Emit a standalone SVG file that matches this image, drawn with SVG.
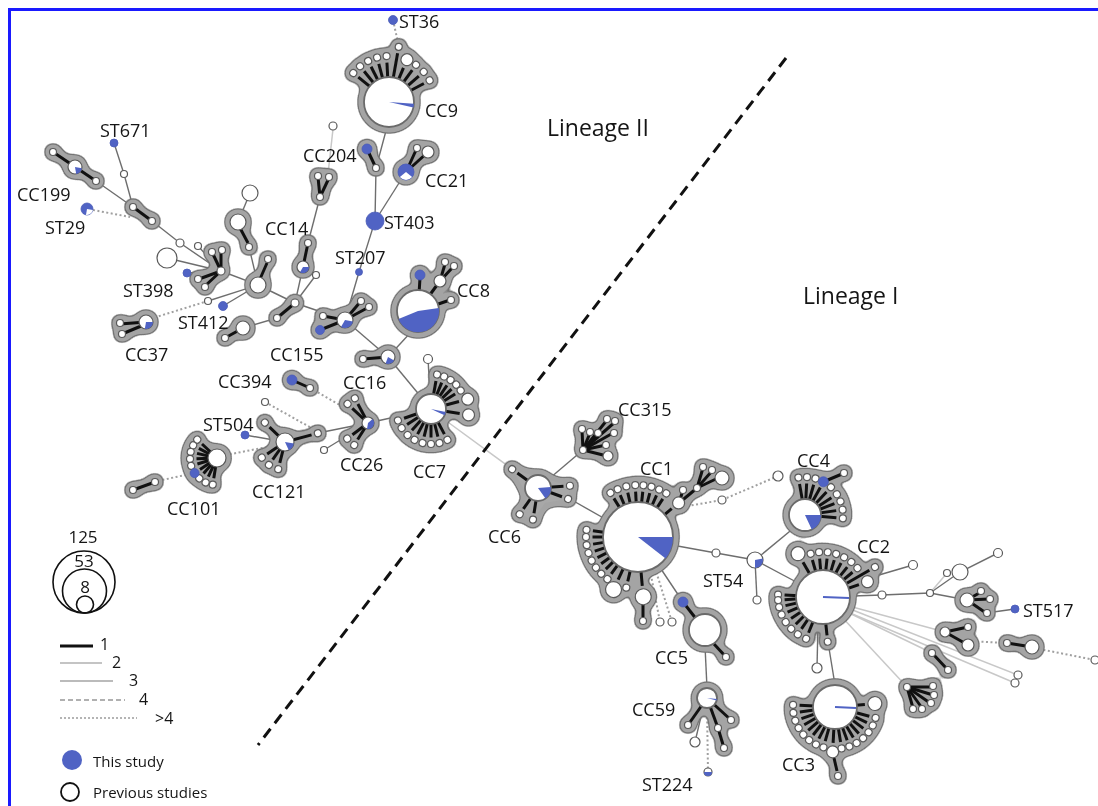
<svg xmlns="http://www.w3.org/2000/svg" width="1098" height="806" viewBox="0 0 1098 806">
<style>
.c{stroke:#6e6e6e;stroke-width:1.4;fill:none}
.f{stroke:#c8c8c8;stroke-width:1.5;fill:none}
.d{stroke:#a0a0a0;stroke-width:2;stroke-dasharray:2 2.5;fill:none}
.k{stroke:#111;stroke-width:3}
.w{fill:#fff;stroke:#5a5a5a;stroke-width:1.2}
.W{fill:#fff;stroke:#6a6a6a;stroke-width:1.8}
.b{fill:#5063c4}
.bo{fill:#5063c4;stroke:#4a5cb8;stroke-width:0.8}
.g{fill:#a8a8a8}
.t{font-family:"Open Sans","Liberation Sans",sans-serif;font-size:18px;fill:#151515}
.lg{font-family:"Open Sans","Liberation Sans",sans-serif;font-size:15px;fill:#151515}
.ln{font-family:"Open Sans","Liberation Sans",sans-serif;font-size:16px;fill:#151515}
</style>
<defs>
<filter id="halo" filterUnits="userSpaceOnUse" x="0" y="0" width="1098" height="806" color-interpolation-filters="sRGB">
<feGaussianBlur in="SourceAlpha" stdDeviation="4.5" result="bl"/>
<feComponentTransfer in="bl" result="a2"><feFuncA type="linear" slope="25" intercept="-1.25"/></feComponentTransfer>
<feFlood flood-color="#747474"/>
<feComposite in2="a2" operator="in" result="o"/>
<feComponentTransfer in="bl" result="a1"><feFuncA type="linear" slope="25" intercept="-2.5"/></feComponentTransfer>
<feFlood flood-color="#a4a4a4"/>
<feComposite in2="a1" operator="in" result="i"/>
<feMerge><feMergeNode in="o"/><feMergeNode in="i"/><feMergeNode in="SourceGraphic"/></feMerge>
</filter>
<g id="s26"><line x2="19.5" stroke="#111" stroke-width="3"/><circle cx="26" r="3.5" fill="#fff" stroke="#5a5a5a" stroke-width="1.2"/></g>
<g id="s27"><line x2="20.5" stroke="#111" stroke-width="3"/><circle cx="27" r="3.5" fill="#fff" stroke="#5a5a5a" stroke-width="1.2"/></g>
<g id="s28"><line x2="21.5" stroke="#111" stroke-width="3"/><circle cx="28" r="3.5" fill="#fff" stroke="#5a5a5a" stroke-width="1.2"/></g>
<g id="s32"><line x2="25.5" stroke="#111" stroke-width="3"/><circle cx="32" r="3.5" fill="#fff" stroke="#5a5a5a" stroke-width="1.2"/></g>
<g id="s34"><line x2="27.5" stroke="#111" stroke-width="3"/><circle cx="34" r="3.5" fill="#fff" stroke="#5a5a5a" stroke-width="1.2"/></g>
<g id="s35"><line x2="28.5" stroke="#111" stroke-width="3"/><circle cx="35" r="3.5" fill="#fff" stroke="#5a5a5a" stroke-width="1.2"/></g>
<g id="s38"><line x2="31.5" stroke="#111" stroke-width="3"/><circle cx="38" r="3.5" fill="#fff" stroke="#5a5a5a" stroke-width="1.2"/></g>
<g id="s42"><line x2="35.5" stroke="#111" stroke-width="3"/><circle cx="42" r="3.5" fill="#fff" stroke="#5a5a5a" stroke-width="1.2"/></g>
<g id="s45"><line x2="38.5" stroke="#111" stroke-width="3"/><circle cx="45" r="3.5" fill="#fff" stroke="#5a5a5a" stroke-width="1.2"/></g>
<g id="s46"><line x2="39.5" stroke="#111" stroke-width="3"/><circle cx="46" r="3.5" fill="#fff" stroke="#5a5a5a" stroke-width="1.2"/></g>
<g id="s52"><line x2="45.5" stroke="#111" stroke-width="3"/><circle cx="52" r="3.5" fill="#fff" stroke="#5a5a5a" stroke-width="1.2"/></g>
<g id="s56"><line x2="49.5" stroke="#111" stroke-width="3"/><circle cx="56" r="3.5" fill="#fff" stroke="#5a5a5a" stroke-width="1.2"/></g>
<g id="s60"><line x2="53.5" stroke="#111" stroke-width="3"/><circle cx="60" r="3.5" fill="#fff" stroke="#5a5a5a" stroke-width="1.2"/></g>
<g id="b38"><line x2="29" stroke="#111" stroke-width="3"/><circle cx="38" r="6" fill="#fff" stroke="#5a5a5a" stroke-width="1.2"/></g>
<g id="b40"><line x2="30" stroke="#111" stroke-width="3"/><circle cx="40" r="7" fill="#fff" stroke="#5a5a5a" stroke-width="1.2"/></g>
<g id="b45"><line x2="36" stroke="#111" stroke-width="3"/><circle cx="45" r="6" fill="#fff" stroke="#5a5a5a" stroke-width="1.2"/></g>
<g id="b46"><line x2="37" stroke="#111" stroke-width="3"/><circle cx="46" r="6" fill="#fff" stroke="#5a5a5a" stroke-width="1.2"/></g>
<g id="b47"><line x2="38" stroke="#111" stroke-width="3"/><circle cx="47" r="6" fill="#fff" stroke="#5a5a5a" stroke-width="1.2"/></g>
<g id="b50"><line x2="40" stroke="#111" stroke-width="3"/><circle cx="50" r="7" fill="#fff" stroke="#5a5a5a" stroke-width="1.2"/></g>
<g id="b53"><line x2="44" stroke="#111" stroke-width="3"/><circle cx="53" r="6" fill="#fff" stroke="#5a5a5a" stroke-width="1.2"/></g>
<g id="b58"><line x2="47" stroke="#111" stroke-width="3"/><circle cx="58" r="8" fill="#fff" stroke="#5a5a5a" stroke-width="1.2"/></g>
<g id="b60"><line x2="49" stroke="#111" stroke-width="3"/><circle cx="60" r="8" fill="#fff" stroke="#5a5a5a" stroke-width="1.2"/></g>
</defs>
<rect x="0" y="0" width="1098" height="806" fill="#fff"/>
<rect x="9.5" y="9.5" width="1100" height="810" fill="none" stroke="#1a1aff" stroke-width="3"/>

<g id="connectors">
<polyline class="c" points="114,143 124,174 133,207"/>
<line class="c" x1="96" y1="181" x2="133" y2="207"/>
<polyline class="c" points="152,221 180,243 221,271"/>
<line class="c" x1="198" y1="246" x2="221" y2="271"/>
<line class="c" x1="167" y1="258" x2="221" y2="271"/>
<line class="c" x1="187" y1="273" x2="221" y2="271"/>
<line class="c" x1="250" y1="193" x2="238" y2="222"/>
<line class="c" x1="249" y1="247" x2="258" y2="285"/>
<line class="c" x1="221" y1="271" x2="258" y2="285"/>
<line class="c" x1="258" y1="285" x2="208" y2="301"/>
<line class="c" x1="258" y1="285" x2="223" y2="306"/>
<line class="c" x1="258" y1="285" x2="295" y2="303"/>
<line class="c" x1="295" y1="303" x2="303" y2="267"/>
<line class="c" x1="295" y1="303" x2="316" y2="275"/>
<line class="c" x1="308" y1="243" x2="320" y2="197"/>
<line class="c" x1="295" y1="303" x2="345" y2="320"/>
<line class="c" x1="243" y1="328" x2="277" y2="318"/>
<polyline class="c" points="345,320 359,272 375,221 376,168 387,127"/>
<line class="c" x1="375" y1="221" x2="406" y2="172"/>
<line class="f" x1="333" y1="129" x2="328" y2="174"/>
<line class="c" x1="345" y1="320" x2="388" y2="357"/>
<line class="c" x1="388" y1="357" x2="412" y2="331"/>
<line class="c" x1="388" y1="357" x2="431" y2="409"/>
<line class="c" x1="431" y1="409" x2="428" y2="359"/>
<line class="c" x1="431" y1="409" x2="368" y2="423"/>
<line class="c" x1="368" y1="423" x2="318" y2="433"/>
<line class="c" x1="368" y1="423" x2="324" y2="450"/>
<line class="c" x1="285" y1="442" x2="245" y2="435"/>
<line class="f" x1="445" y1="420" x2="512" y2="469"/>
<line class="c" x1="550" y1="478" x2="583" y2="450"/>
<line class="c" x1="570" y1="499" x2="607" y2="520"/>
<polyline class="c" points="672,545 716,553 755,560"/>
<line class="c" x1="755" y1="560" x2="757" y2="600"/>
<line class="c" x1="755" y1="560" x2="795" y2="527"/>
<line class="c" x1="755" y1="560" x2="800" y2="584"/>
<line class="c" x1="659" y1="566" x2="683" y2="602"/>
<line class="c" x1="705" y1="646" x2="707" y2="688"/>
<line class="c" x1="703" y1="708" x2="695" y2="742"/>
<line class="c" x1="828" y1="642" x2="835" y2="685"/>
<line class="c" x1="818" y1="623" x2="817" y2="668"/>
<polyline class="c" points="823,597 882,595 930,593"/>
<polyline class="c" points="930,593 960,572 998,553"/>
<line class="f" x1="930" y1="593" x2="947" y2="573"/>
<line class="c" x1="930" y1="593" x2="967" y2="600"/>
<line class="c" x1="986" y1="613" x2="1015" y2="609"/>
<line class="c" x1="845" y1="585" x2="913" y2="565"/>
<line class="f" x1="845" y1="605" x2="945" y2="632"/>
<line class="f" x1="843" y1="610" x2="932" y2="653"/>
<line class="f" x1="840" y1="615" x2="907" y2="687"/>
<line class="f" x1="845" y1="607" x2="1018" y2="675"/>
<line class="f" x1="843" y1="610" x2="1015" y2="683"/>
<line class="d" x1="393" y1="20" x2="399" y2="47"/>
<line class="d" x1="93" y1="210" x2="130" y2="217"/>
<line class="d" x1="208" y1="301" x2="153" y2="318"/>
<line class="d" x1="310" y1="388" x2="352" y2="412"/>
<line class="d" x1="265" y1="402" x2="315" y2="430"/>
<line class="d" x1="267" y1="447" x2="226" y2="455"/>
<line class="d" x1="158" y1="481" x2="194" y2="473"/>
<polyline class="d" points="665,510 722,500 778,476"/>
<line class="d" x1="650" y1="570" x2="660" y2="622"/>
<line class="d" x1="655" y1="568" x2="672" y2="622"/>
<line class="d" x1="707" y1="708" x2="708" y2="772"/>
<line class="d" x1="968" y1="641" x2="1007" y2="643"/>
<line class="d" x1="1039" y1="649" x2="1095" y2="660"/>
</g>

<line id="lineage-divider" x1="786" y1="58" x2="258" y2="745" stroke="#111" stroke-width="3" stroke-dasharray="11 7"/>

<g id="clusters" filter="url(#halo)">
<g id="cc9" transform="translate(389 102)">
<use href="#s46" transform="rotate(-141)"/><use href="#s46" transform="rotate(-129)"/><use href="#s46" transform="rotate(-117)"/><use href="#s46" transform="rotate(-105)"/><use href="#s46" transform="rotate(-93)"/>
<use href="#s56" transform="rotate(-80)"/><use href="#b46" transform="rotate(-67)"/><use href="#s46" transform="rotate(-54)"/><use href="#s46" transform="rotate(-41)"/><use href="#s46" transform="rotate(-28)"/>
<circle class="W" r="25"/>
<path class="b" d="M0 0L24.9 1.7A25 25 0 0 1 24.4 5.6Z"/>
</g>
<g id="cc199">
<line class="k" x1="53" y1="152" x2="96" y2="181"/>
<circle class="w" cx="53" cy="152" r="3.5"/><circle class="w" cx="96" cy="181" r="3.5"/>
<circle class="w" cx="75" cy="167" r="7"/>
<path class="b" d="M75 167l6.9 1.2A7 7 0 0 1 76.2 173.9Z"/>
</g>
<g id="n-pill-a">
<line class="k" x1="133" y1="207" x2="152" y2="221"/>
<circle class="w" cx="133" cy="207" r="3.5"/><circle class="w" cx="152" cy="221" r="3.5"/>
</g>
<g id="cc37">
<line class="k" x1="146" y1="322" x2="120" y2="324"/><line class="k" x1="146" y1="324" x2="122" y2="334"/>
<circle class="w" cx="120" cy="323" r="3.5"/><circle class="w" cx="122" cy="334" r="3.5"/>
<circle class="w" cx="146" cy="322" r="7"/>
<path class="b" d="M146 322l7 0A7 7 0 0 1 144.8 328.9Z"/>
</g>
<g id="n-pill-b">
<line class="k" x1="240" y1="228" x2="248" y2="243"/>
<circle class="w" cx="238" cy="222" r="8"/><circle class="w" cx="249" cy="247" r="3.5"/>
</g>
<g id="n-hub2">
<line class="k" x1="260" y1="279" x2="267" y2="263"/>
<circle class="w" cx="268" cy="259" r="3.5"/><circle class="w" cx="258" cy="285" r="8"/>
</g>
<g id="n-hub1">
<line class="k" x1="221" y1="271" x2="212" y2="252"/><line class="k" x1="221" y1="271" x2="221" y2="250"/>
<line class="k" x1="221" y1="271" x2="205" y2="286"/><line class="k" x1="221" y1="271" x2="199" y2="279"/>
<circle class="w" cx="212" cy="252" r="3.5"/><circle class="w" cx="222" cy="250" r="3.5"/>
<circle class="w" cx="205" cy="287" r="3.5"/><circle class="w" cx="198" cy="279" r="3.5"/>
<circle class="w" cx="221" cy="271" r="4"/>
</g>
<g id="n-hub3">
<line class="k" x1="295" y1="303" x2="277" y2="318"/>
<circle class="w" cx="277" cy="318" r="3.5"/><circle class="w" cx="295" cy="303" r="4"/>
</g>
<g id="n-pill-c">
<line class="k" x1="243" y1="328" x2="225" y2="338"/>
<circle class="w" cx="225" cy="338" r="3.5"/><circle class="w" cx="243" cy="328" r="7"/>
</g>
<g id="cc14">
<line class="k" x1="308" y1="243" x2="303" y2="267"/>
<circle class="w" cx="308" cy="243" r="3.5"/><circle class="w" cx="303" cy="267" r="6"/>
<path class="b" d="M303 267l6 0A6 6 0 0 1 300 272.2Z"/>
</g>
<g id="n-v">
<line class="k" x1="320" y1="197" x2="318" y2="177"/><line class="k" x1="320" y1="197" x2="329" y2="178"/>
<circle class="w" cx="318" cy="176" r="3.5"/><circle class="w" cx="329" cy="177" r="3.5"/><circle class="w" cx="320" cy="197" r="3.5"/>
</g>
<g id="cc204">
<line class="k" x1="367" y1="149" x2="376" y2="168"/>
<circle class="bo" cx="367" cy="149" r="5"/><circle class="w" cx="376" cy="168" r="3.5"/>
</g>
<g id="cc21">
<line class="k" x1="406" y1="172" x2="417" y2="148"/><line class="k" x1="406" y1="172" x2="428" y2="152"/>
<circle class="w" cx="417" cy="148" r="3.5"/><circle class="w" cx="428" cy="152" r="6"/>
<circle class="bo" cx="406" cy="172" r="8"/>
<path fill="#fff" d="M406 172l6.1 5.1A8 8 0 0 1 399.9 177.1Z"/>
</g>
<g id="cc155">
<line class="k" x1="345" y1="320" x2="320" y2="330"/><line class="k" x1="345" y1="320" x2="323" y2="316"/>
<line class="k" x1="345" y1="320" x2="361" y2="301"/><line class="k" x1="345" y1="320" x2="369" y2="307"/>
<circle class="bo" cx="320" cy="330" r="4.5"/><circle class="w" cx="323" cy="316" r="3.5"/>
<circle class="w" cx="361" cy="301" r="3.5"/><circle class="w" cx="369" cy="307" r="3.5"/>
<circle class="w" cx="345" cy="320" r="8"/>
<path class="b" d="M345 320l7.9 1.4A8 8 0 0 1 341 326.9Z"/>
</g>
<g id="cc8">
<line class="k" x1="418" y1="311" x2="420" y2="278"/><line class="k" x1="418" y1="311" x2="440" y2="281"/>
<line class="k" x1="440" y1="281" x2="445" y2="264"/><line class="k" x1="440" y1="281" x2="453" y2="267"/>
<line class="k" x1="418" y1="311" x2="450" y2="300"/>
<circle class="bo" cx="420" cy="275" r="5"/><circle class="w" cx="440" cy="281" r="6"/>
<circle class="w" cx="445" cy="262" r="3.5"/><circle class="w" cx="454" cy="266" r="3.5"/><circle class="w" cx="451" cy="300" r="3.5"/>
<circle class="W" cx="418" cy="311" r="21"/>
<path class="b" d="M418 311l20.8 -2.9A21 21 0 0 1 398.5 318.9Z"/>
</g>
<g id="cc16">
<line class="k" x1="388" y1="357" x2="363" y2="359"/>
<circle class="w" cx="363" cy="359" r="3.5"/><circle class="w" cx="388" cy="357" r="7"/>
<path class="b" d="M388 357l6.1 3.5A7 7 0 0 1 385.6 363.6Z"/>
</g>
<g id="cc7" transform="translate(431 409)">
<use href="#s35" transform="rotate(-80)"/><use href="#s35" transform="rotate(-68)"/><use href="#s35" transform="rotate(-56)"/><use href="#s35" transform="rotate(-44)"/><use href="#s35" transform="rotate(-32)"/>
<use href="#b38" transform="rotate(-15)"/><use href="#b38" transform="rotate(9)"/>
<use href="#s35" transform="rotate(62)"/><use href="#s35" transform="rotate(76)"/><use href="#s35" transform="rotate(90)"/><use href="#s35" transform="rotate(104)"/><use href="#s35" transform="rotate(118)"/><use href="#s35" transform="rotate(132)"/><use href="#s35" transform="rotate(147)"/><use href="#s35" transform="rotate(161)"/>
<circle class="W" r="15"/>
<path class="b" d="M0 0L14.7 3.1A15 15 0 0 1 13.6 6.3Z"/>
</g>
<g id="cc394">
<line class="k" x1="292" y1="380" x2="310" y2="388"/>
<circle class="bo" cx="292" cy="380" r="5"/><circle class="w" cx="310" cy="388" r="3.5"/>
</g>
<g id="cc26" transform="translate(368 423)">
<use href="#s28" transform="rotate(-137)"/><use href="#s28" transform="rotate(-118)"/><use href="#s26" transform="rotate(122)"/><use href="#s26" transform="rotate(143)"/>
<circle class="w" r="6"/>
<path class="b" d="M0 0L4.6 -3.9A6 6 0 0 1 -1 5.9Z"/>
</g>
<g id="cc121" transform="translate(285 442)">
<use href="#s28" transform="rotate(-136)"/><use href="#s34" transform="rotate(-15)"/><use href="#s28" transform="rotate(104)"/><use href="#s28" transform="rotate(125)"/><use href="#s28" transform="rotate(146)"/>
<circle class="w" r="9"/>
<path class="b" d="M0 0L8.9 1.6A9 9 0 0 1 3.8 8.2Z"/>
</g>
<g id="cc101">
<g transform="translate(217 458)">
<use href="#s27" transform="rotate(-137)"/><use href="#s27" transform="rotate(-152)"/><use href="#s27" transform="rotate(-167)"/><use href="#s27" transform="rotate(178)"/><use href="#s27" transform="rotate(163)"/><use href="#s27" transform="rotate(146)"/><use href="#s27" transform="rotate(131)"/><use href="#s27" transform="rotate(115)"/><use href="#s27" transform="rotate(99)"/>
<circle class="w" r="9"/>
</g>
<circle class="bo" cx="194.6" cy="473.1" r="4.5"/>
</g>
<g id="n-pill-d">
<line class="k" x1="133" y1="490" x2="155" y2="482"/>
<circle class="w" cx="133" cy="490" r="3.5"/><circle class="w" cx="155" cy="482" r="3.5"/>
</g>
<g id="cc315">
<line class="k" x1="583" y1="450" x2="582" y2="430"/><line class="k" x1="583" y1="450" x2="590" y2="433"/><line class="k" x1="583" y1="450" x2="598" y2="434"/>
<line class="k" x1="583" y1="450" x2="607" y2="420"/><line class="k" x1="583" y1="450" x2="615" y2="422"/><line class="k" x1="583" y1="450" x2="613" y2="433"/>
<line class="k" x1="583" y1="450" x2="606" y2="445"/><line class="k" x1="583" y1="450" x2="607" y2="456"/>
<circle class="w" cx="582" cy="429" r="3.5"/><circle class="w" cx="590" cy="432" r="3.5"/><circle class="w" cx="598" cy="433" r="3.5"/>
<circle class="w" cx="607" cy="419" r="3.5"/><circle class="w" cx="615" cy="421" r="3.5"/><circle class="w" cx="614" cy="433" r="3.5"/>
<circle class="w" cx="606" cy="445" r="3.5"/><circle class="w" cx="608" cy="456" r="5"/>
<circle class="w" cx="583" cy="450" r="3.5"/>
</g>
<g id="cc6">
<polygon class="g" points="512,469 535,476 570,486 568,499 545,503 533,520 520,514 528,496"/>
<g transform="translate(538 488)">
<use href="#s32" transform="rotate(-144)"/><use href="#s32" transform="rotate(-4)"/><use href="#s32" transform="rotate(20)"/><use href="#s32" transform="rotate(99)"/><use href="#s32" transform="rotate(125)"/>
<circle class="W" r="13"/>
<path class="b" d="M0 0L12.9 -1.1A13 13 0 0 1 7.5 10.6Z"/>
</g>
</g>
<g id="cc1">
<line class="k" x1="679" y1="503" x2="697" y2="488"/><line class="k" x1="679" y1="503" x2="683" y2="490"/>
<line class="k" x1="697" y1="488" x2="703" y2="468"/><line class="k" x1="697" y1="488" x2="712" y2="471"/><line class="k" x1="697" y1="488" x2="718" y2="478"/>
<circle class="w" cx="683" cy="490" r="3.5"/><circle class="w" cx="697" cy="488" r="3.5"/>
<circle class="w" cx="703" cy="467" r="3.5"/><circle class="w" cx="712" cy="470" r="3.5"/><circle class="w" cx="722" cy="478" r="7"/>
<line class="k" x1="643" y1="605" x2="643" y2="617"/><circle class="w" cx="643" cy="621" r="3.5"/>
<g transform="translate(638 537)">
<use href="#s52" transform="rotate(-122)"/><use href="#s52" transform="rotate(-113)"/><use href="#s52" transform="rotate(-103)"/><use href="#s52" transform="rotate(-93)"/><use href="#s52" transform="rotate(-84)"/><use href="#s52" transform="rotate(-75)"/><use href="#s52" transform="rotate(-66)"/><use href="#s52" transform="rotate(-57)"/>
<use href="#b53" transform="rotate(-40)"/>
<use href="#s52" transform="rotate(-172)"/><use href="#s52" transform="rotate(180)"/><use href="#s52" transform="rotate(171)"/><use href="#s52" transform="rotate(162)"/><use href="#s52" transform="rotate(153)"/><use href="#s52" transform="rotate(144)"/><use href="#s52" transform="rotate(135)"/><use href="#s52" transform="rotate(126)"/>
<use href="#b58" transform="rotate(115)"/><use href="#s52" transform="rotate(103)"/><use href="#b60" transform="rotate(85)"/>
<circle class="W" r="35"/>
<path class="b" d="M0 0L35 0A35 35 0 0 1 27.6 21.5Z"/>
</g>
</g>
<g id="cc5">
<line class="k" x1="683" y1="602" x2="697" y2="620"/><line class="k" x1="714" y1="644" x2="726" y2="657"/>
<circle class="bo" cx="683" cy="602" r="5"/><circle class="w" cx="726" cy="657" r="3.5"/>
<circle class="W" cx="705" cy="630" r="16"/>
</g>
<g id="cc59">
<line class="k" x1="707" y1="698" x2="688" y2="725"/><line class="k" x1="707" y1="698" x2="718" y2="728"/><line class="k" x1="707" y1="698" x2="731" y2="720"/><line class="k" x1="718" y1="728" x2="724" y2="748"/>
<circle class="w" cx="688" cy="725" r="3.5"/><circle class="w" cx="718" cy="728" r="3.5"/><circle class="w" cx="731" cy="720" r="3.5"/><circle class="w" cx="724" cy="748" r="3.5"/>
<circle class="W" cx="707" cy="698" r="10"/>
<path class="b" d="M707 698l10 0.9A10 10 0 0 1 716.7 700.4Z"/>
</g>
<g id="cc4">
<g transform="translate(805 515)">
<use href="#s38" transform="rotate(-100)"/><use href="#s38" transform="rotate(-87)"/><use href="#s38" transform="rotate(-74)"/><use href="#s38" transform="rotate(-61)"/><use href="#s38" transform="rotate(-47)"/><use href="#s38" transform="rotate(-33)"/><use href="#s38" transform="rotate(-21)"/><use href="#s38" transform="rotate(-8)"/><use href="#s38" transform="rotate(5)"/>
<circle class="W" r="16"/>
<path class="b" d="M0 0L16 0A16 16 0 0 1 6.8 14.5Z"/>
</g>
<line class="k" x1="823" y1="482" x2="842" y2="474"/>
<circle class="bo" cx="823.4" cy="481.8" r="5"/><circle class="w" cx="844" cy="473" r="3.5"/>
</g>
<g id="cc2" transform="translate(823 597)">
<use href="#b50" transform="rotate(-120)"/><use href="#s45" transform="rotate(-106)"/><use href="#s45" transform="rotate(-95)"/><use href="#s45" transform="rotate(-84)"/><use href="#s45" transform="rotate(-73)"/><use href="#s45" transform="rotate(-62)"/><use href="#s45" transform="rotate(-51)"/><use href="#s45" transform="rotate(-40)"/>
<use href="#s60" transform="rotate(-30)"/><use href="#b47" transform="rotate(-19)"/>
<use href="#s45" transform="rotate(-177)"/><use href="#s45" transform="rotate(176)"/><use href="#s45" transform="rotate(167)"/><use href="#s45" transform="rotate(157)"/><use href="#s45" transform="rotate(146)"/><use href="#s45" transform="rotate(135)"/><use href="#s45" transform="rotate(124)"/><use href="#s45" transform="rotate(112)"/><use href="#s45" transform="rotate(84)"/>
<circle class="W" r="27"/>
<line x1="0" y1="0" x2="26" y2="1" stroke="#5063c4" stroke-width="2.2"/>
</g>
<g id="cc3">
<line class="k" x1="834" y1="758" x2="837" y2="771"/><circle class="w" cx="838" cy="776" r="3.5"/>
<g transform="translate(835 707)">
<use href="#s42" transform="rotate(-177)"/><use href="#s42" transform="rotate(172)"/><use href="#s42" transform="rotate(161)"/><use href="#s42" transform="rotate(150)"/><use href="#s42" transform="rotate(139)"/><use href="#s42" transform="rotate(128)"/><use href="#s42" transform="rotate(117)"/><use href="#s42" transform="rotate(106)"/>
<use href="#b45" transform="rotate(93)"/>
<use href="#s42" transform="rotate(81)"/><use href="#s42" transform="rotate(70)"/><use href="#s42" transform="rotate(59)"/><use href="#s42" transform="rotate(48)"/><use href="#s42" transform="rotate(37)"/><use href="#s42" transform="rotate(26)"/><use href="#s42" transform="rotate(15)"/>
<use href="#b40" transform="rotate(-5)"/>
<circle class="W" r="22"/>
<line x1="0" y1="0" x2="21" y2="1" stroke="#5063c4" stroke-width="2.2"/>
</g>
</g>
<g id="n-st517-cluster">
<line class="k" x1="967" y1="600" x2="981" y2="592"/><line class="k" x1="967" y1="600" x2="989" y2="599"/><line class="k" x1="967" y1="600" x2="986" y2="613"/>
<circle class="w" cx="981" cy="591" r="3.5"/><circle class="w" cx="990" cy="599" r="3.5"/><circle class="w" cx="987" cy="613" r="3.5"/>
<circle class="w" cx="967" cy="600" r="7"/>
</g>
<g id="n-c3">
<line class="k" x1="945" y1="632" x2="968" y2="627"/><line class="k" x1="945" y1="632" x2="968" y2="645"/>
<circle class="w" cx="968" cy="627" r="3.5"/><circle class="w" cx="968" cy="645" r="6"/><circle class="w" cx="945" cy="632" r="5"/>
</g>
<g id="n-c4">
<line class="k" x1="1007" y1="643" x2="1032" y2="647"/>
<circle class="w" cx="1007" cy="643" r="3.5"/><circle class="w" cx="1032" cy="647" r="7"/>
</g>
<g id="n-c5">
<line class="k" x1="932" y1="653" x2="948" y2="670"/>
<circle class="w" cx="932" cy="653" r="3.5"/><circle class="w" cx="948" cy="670" r="3.5"/>
</g>
<g id="n-c6">
<line class="k" x1="907" y1="687" x2="913" y2="708"/><line class="k" x1="907" y1="687" x2="922" y2="708"/><line class="k" x1="907" y1="687" x2="930" y2="703"/><line class="k" x1="907" y1="687" x2="933" y2="695"/><line class="k" x1="907" y1="687" x2="932" y2="687"/>
<circle class="w" cx="913" cy="709" r="3.5"/><circle class="w" cx="922" cy="709" r="3.5"/><circle class="w" cx="931" cy="703" r="3.5"/><circle class="w" cx="934" cy="695" r="3.5"/><circle class="w" cx="933" cy="686" r="3.5"/>
<circle class="w" cx="907" cy="687" r="3.5"/>
</g>
</g>

<g id="nodes">
<circle id="st36" class="bo" cx="393" cy="20" r="4.5"/>
<circle id="st671" class="bo" cx="114" cy="143" r="4"/>
<circle class="w" cx="124" cy="174" r="3.5"/>
<g id="st29"><circle class="bo" cx="87" cy="209" r="6"/><path fill="#fff" d="M87 209l5.9 1A6 6 0 0 1 86 214.9Z"/></g>
<circle class="w" cx="250" cy="193" r="8"/>
<circle class="w" cx="167" cy="258" r="10"/>
<circle class="w" cx="198" cy="246" r="3.5"/>
<circle class="w" cx="180" cy="243" r="4"/>
<circle id="st398" class="bo" cx="187" cy="273" r="4"/>
<circle class="w" cx="208" cy="301" r="3.5"/>
<circle id="st412" class="bo" cx="223" cy="306" r="4.5"/>
<circle class="w" cx="316" cy="275" r="3.5"/>
<circle class="w" cx="333" cy="126" r="4"/>
<circle id="st403" class="bo" cx="375" cy="221" r="9"/>
<circle id="st207" class="bo" cx="359" cy="272" r="3.5"/>
<circle class="w" cx="428" cy="359" r="4.5"/>
<circle class="w" cx="265" cy="402" r="3.5"/>
<circle class="w" cx="324" cy="450" r="3.5"/>
<circle id="st504" class="bo" cx="245" cy="435" r="4"/>
<circle class="w" cx="716" cy="553" r="4"/>
<g id="st54"><circle class="w" cx="755" cy="560" r="8"/><path class="b" d="M755 560l7.9 -1.4A8 8 0 0 1 755 568Z"/></g>
<circle class="w" cx="757" cy="600" r="4"/>
<circle class="w" cx="722" cy="500" r="4"/>
<circle class="w" cx="778" cy="476" r="5"/>
<circle class="w" cx="660" cy="622" r="4"/>
<circle class="w" cx="672" cy="622" r="4"/>
<circle class="w" cx="695" cy="742" r="5"/>
<g id="st224"><circle class="w" cx="708" cy="772" r="4"/><path class="b" d="M704 772A4 4 0 0 0 712 772Z"/></g>
<circle class="w" cx="817" cy="668" r="5"/>
<circle class="w" cx="882" cy="595" r="4"/>
<circle class="w" cx="930" cy="593" r="3.5"/>
<circle class="w" cx="960" cy="572" r="8"/>
<circle class="w" cx="998" cy="553" r="4.5"/>
<circle class="w" cx="947" cy="573" r="3.5"/>
<circle class="w" cx="913" cy="565" r="4.5"/>
<circle id="st517" class="bo" cx="1015" cy="609" r="4"/>
<circle class="w" cx="1018" cy="675" r="4"/>
<circle class="w" cx="1015" cy="683" r="4"/>
<circle class="w" cx="1095" cy="660" r="4"/>
</g>

<g id="labels" class="t">
<text x="399" y="28">ST36</text>
<text x="425" y="117">CC9</text>
<text x="547" y="136" style="font-size:23px">Lineage II</text>
<text x="100" y="137">ST671</text>
<text x="303" y="162">CC204</text>
<text x="425" y="187">CC21</text>
<text x="17" y="201">CC199</text>
<text x="45" y="234">ST29</text>
<text x="384" y="229">ST403</text>
<text x="265" y="235">CC14</text>
<text x="335" y="264">ST207</text>
<text x="123" y="297">ST398</text>
<text x="457" y="297">CC8</text>
<text x="178" y="329">ST412</text>
<text x="125" y="361">CC37</text>
<text x="270" y="361">CC155</text>
<text x="803" y="304" style="font-size:23px">Lineage I</text>
<text x="218" y="388">CC394</text>
<text x="343" y="389">CC16</text>
<text x="618" y="416">CC315</text>
<text x="203" y="431">ST504</text>
<text x="797" y="467">CC4</text>
<text x="640" y="475">CC1</text>
<text x="413" y="478">CC7</text>
<text x="340" y="471">CC26</text>
<text x="252" y="498">CC121</text>
<text x="167" y="515">CC101</text>
<text x="488" y="543">CC6</text>
<text x="857" y="553">CC2</text>
<text x="703" y="587">ST54</text>
<text x="1023" y="617">ST517</text>
<text x="655" y="664">CC5</text>
<text x="632" y="716">CC59</text>
<text x="782" y="771">CC3</text>
<text x="642" y="791">ST224</text>
</g>

<g id="legend">
<g fill="none" stroke="#111" stroke-width="1.6">
<circle cx="84" cy="582" r="31"/>
<circle cx="84.5" cy="591" r="22"/>
<circle cx="85" cy="604.5" r="8.5"/>
</g>
<g class="ln" text-anchor="middle" style="font-size:17px">
<text x="83" y="543">125</text>
<text x="84" y="567">53</text>
<text x="85" y="593">8</text>
</g>
<line x1="60" y1="646" x2="93" y2="646" stroke="#111" stroke-width="3"/>
<line x1="60" y1="663" x2="102" y2="663" stroke="#c4c4c4" stroke-width="2"/>
<line x1="60" y1="681" x2="113" y2="681" stroke="#a4a4a4" stroke-width="1.5"/>
<line x1="60" y1="700" x2="125" y2="700" stroke="#b0b0b0" stroke-width="2" stroke-dasharray="5 3"/>
<line x1="60" y1="718" x2="137" y2="718" stroke="#b4b4b4" stroke-width="2" stroke-dasharray="2 2"/>
<g class="ln">
<text x="100" y="650">1</text>
<text x="112" y="668">2</text>
<text x="129" y="686">3</text>
<text x="139" y="705">4</text>
<text x="155" y="724">&gt;4</text>
</g>
<circle cx="72" cy="760" r="10" fill="#5063c4"/>
<circle cx="70" cy="792" r="9" fill="#fff" stroke="#111" stroke-width="1.8"/>
<text class="lg" x="93" y="767">This study</text>
<text class="lg" x="93" y="798">Previous studies</text>
</g>
</svg>
